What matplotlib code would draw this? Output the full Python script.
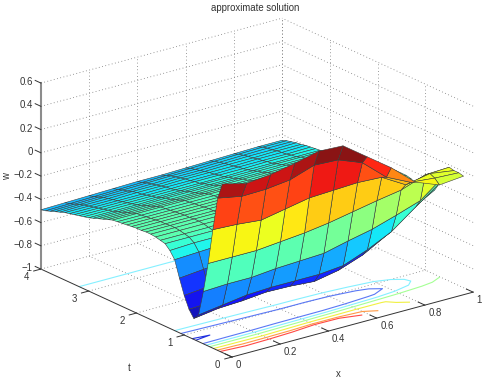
import matplotlib
matplotlib.use('Agg')
import matplotlib.pyplot as plt
from mpl_toolkits.mplot3d import proj3d
import numpy as np

plt.rcParams['font.family'] = ['Liberation Sans', 'DejaVu Sans']

x_vals = [0.0, 0.1, 0.2, 0.3, 0.4, 0.5, 0.6, 0.7, 0.8, 0.9, 1.0]
t_vals = [0.2, 0.3, 0.4, 0.5, 0.6, 0.7, 0.8, 0.9, 1.0, 1.1, 1.2, 1.3, 1.4,
          1.5, 1.6, 1.7, 1.8, 1.9, 2.0, 2.1, 2.2, 2.3, 2.4, 2.5, 2.6, 2.7,
          2.8, 2.9, 3.0, 3.1, 3.2, 3.3, 3.4, 3.5, 3.6, 3.7, 3.8, 3.9, 4.0]

# one row per t value
w_rows = [
    [0.45, 0.40, 0.42, 0.46, 0.51, 0.50, 0.35, 0.20, 0.02, -0.06, -0.04],
    [0.31, 0.27, 0.275, 0.30, 0.37, 0.36, 0.28, 0.10, 0.00, -0.02, -0.03],
    [0.02, 0.01, -0.01, 0.03, 0.07, 0.08, 0.09, 0.08, -0.04, 0.00, -0.03],
    [-0.29, -0.29, -0.29, -0.27, -0.25, -0.22, -0.18, -0.14, -0.105, -0.03, -0.02],
    [-0.55, -0.54, -0.54, -0.52, -0.51, -0.50, -0.45, -0.405, -0.34, -0.27, -0.11],
    [-0.77, -0.74, -0.71, -0.70, -0.70, -0.70, -0.68, -0.60, -0.50, -0.345, -0.195],
    [-0.82, -0.79, -0.78, -0.76, -0.765, -0.78, -0.74, -0.665, -0.55, -0.39, -0.27],
    [-0.76, -0.75, -0.74, -0.72, -0.72, -0.72, -0.69, -0.62, -0.51, -0.38, -0.30],
    [-0.66, -0.64, -0.62, -0.60, -0.58, -0.58, -0.56, -0.51, -0.44, -0.35, -0.31],
    [-0.53, -0.51, -0.49, -0.47, -0.45, -0.44, -0.43, -0.40, -0.37, -0.33, -0.31],
    [-0.39, -0.38, -0.37, -0.36, -0.35, -0.35, -0.34, -0.33, -0.32, -0.30, -0.29],
    [-0.33, -0.32, -0.32, -0.31, -0.31, -0.30, -0.30, -0.29, -0.29, -0.28, -0.27],
    [-0.29, -0.29, -0.29, -0.29, -0.28, -0.28, -0.28, -0.27, -0.27, -0.27, -0.26],
    [-0.28, -0.28, -0.28, -0.27, -0.27, -0.27, -0.27, -0.26, -0.26, -0.26, -0.26],
    [-0.27, -0.27, -0.27, -0.27, -0.27, -0.26, -0.26, -0.26, -0.26, -0.26, -0.26],
    [-0.265, -0.265, -0.265, -0.265, -0.265, -0.26, -0.26, -0.26, -0.26, -0.26, -0.26],
    [-0.265, -0.265, -0.265, -0.265, -0.265, -0.265, -0.26, -0.26, -0.26, -0.26, -0.26],
    [-0.27, -0.27, -0.27, -0.27, -0.27, -0.265, -0.265, -0.265, -0.265, -0.265, -0.265],
    [-0.27, -0.27, -0.27, -0.27, -0.27, -0.27, -0.27, -0.27, -0.27, -0.27, -0.27],
    [-0.275, -0.275, -0.275, -0.275, -0.275, -0.275, -0.275, -0.275, -0.275, -0.275, -0.275],
    [-0.28, -0.28, -0.28, -0.28, -0.28, -0.28, -0.28, -0.28, -0.28, -0.28, -0.28],
    [-0.285, -0.285, -0.285, -0.285, -0.285, -0.285, -0.285, -0.285, -0.285, -0.285, -0.285],
    [-0.29, -0.29, -0.29, -0.29, -0.29, -0.29, -0.29, -0.29, -0.29, -0.29, -0.29],
    [-0.295, -0.295, -0.295, -0.295, -0.295, -0.295, -0.295, -0.295, -0.295, -0.295, -0.30],
    [-0.31, -0.31, -0.31, -0.31, -0.31, -0.31, -0.31, -0.31, -0.31, -0.31, -0.31],
    [-0.325, -0.325, -0.325, -0.325, -0.325, -0.325, -0.325, -0.32, -0.32, -0.32, -0.32],
    [-0.34, -0.34, -0.34, -0.34, -0.34, -0.335, -0.335, -0.335, -0.335, -0.33, -0.33],
    [-0.355, -0.355, -0.355, -0.35, -0.35, -0.35, -0.35, -0.35, -0.345, -0.345, -0.345],
    [-0.37, -0.37, -0.37, -0.365, -0.365, -0.365, -0.365, -0.36, -0.36, -0.36, -0.36],
    [-0.38, -0.38, -0.38, -0.38, -0.38, -0.375, -0.375, -0.375, -0.37, -0.37, -0.37],
    [-0.39, -0.39, -0.39, -0.39, -0.39, -0.39, -0.39, -0.385, -0.385, -0.385, -0.385],
    [-0.40, -0.40, -0.40, -0.40, -0.40, -0.395, -0.395, -0.395, -0.39, -0.39, -0.39],
    [-0.41, -0.41, -0.41, -0.41, -0.405, -0.405, -0.405, -0.40, -0.40, -0.40, -0.395],
    [-0.42, -0.42, -0.42, -0.415, -0.415, -0.41, -0.41, -0.41, -0.405, -0.405, -0.40],
    [-0.435, -0.43, -0.43, -0.425, -0.425, -0.42, -0.42, -0.415, -0.415, -0.41, -0.41],
    [-0.45, -0.445, -0.44, -0.44, -0.435, -0.43, -0.43, -0.425, -0.42, -0.42, -0.415],
    [-0.465, -0.46, -0.455, -0.45, -0.445, -0.44, -0.44, -0.435, -0.43, -0.425, -0.425],
    [-0.48, -0.475, -0.47, -0.465, -0.46, -0.455, -0.45, -0.445, -0.44, -0.435, -0.435],
    [-0.49, -0.485, -0.48, -0.475, -0.47, -0.47, -0.465, -0.46, -0.455, -0.45, -0.45],
]

contour_levels = [-0.80, -0.57, -0.39, -0.19, 0.06, 0.28, 0.38]
contour_colors = ['#2030e0', '#5a78f5', '#85f0ff', '#a5ff95', '#f0f040', '#ff9a45', '#ff4a45']

x_ticks = [0, 0.2, 0.4, 0.6, 0.8, 1]
t_ticks = [0, 1, 2, 3, 4]
w_ticks = [-1, -0.8, -0.6, -0.4, -0.2, 0, 0.2, 0.4, 0.6]
x_labels = ['0', '0.2', '0.4', '0.6', '0.8', '1']
t_labels = ['0', '1', '2', '3', '4']
w_labels = ['\u22121', '\u22120.8', '\u22120.6', '\u22120.4', '\u22120.2', '0', '0.2', '0.4', '0.6']

X, T = np.meshgrid(x_vals, t_vals)
W = np.array(w_rows)

W_PX, H_PX = 485, 379
fig = plt.figure(figsize=(W_PX / 100, H_PX / 100), dpi=100)
ax = fig.add_axes([0.1, 0.1, 400 / W_PX, 400 / H_PX], projection='3d',
                  computed_zorder=False)
ax.set_proj_type('ortho')
ax.view_init(elev=20.6, azim=-127.4)
ax.set_xlim(0, 1)
ax.set_ylim(0, 4)
ax.set_zlim(-1, 0.6)
ax.set_box_aspect((303.5, 314.6, 198.7))
ax.set_axis_off()

grid = dict(color='#7a7a7a', lw=0.6, ls=(0, (1, 3)), zorder=1)
for xv in x_ticks[1:]:
    ax.plot([xv, xv], [0, 4], [-1, -1], **grid)
    ax.plot([xv, xv], [4, 4], [-1, 0.6], **grid)
for tv in t_ticks[1:]:
    ax.plot([0, 1], [tv, tv], [-1, -1], **grid)
    ax.plot([1, 1], [tv, tv], [-1, 0.6], **grid)
for wv in w_ticks[1:]:
    ax.plot([0, 1], [4, 4], [wv, wv], **grid)
    ax.plot([1, 1], [0, 4], [wv, wv], **grid)

norm = plt.Normalize(-0.9, 0.51)
jet = plt.get_cmap('jet', 64)

ax.contour(X, T, W, levels=contour_levels, zdir='z', offset=-1, colors=contour_colors,
           linewidths=0.8, zorder=2)

# axis lines and ticks
dark = dict(color='#333333', lw=0.7, zorder=3)
ax.plot([0, 1], [0, 0], [-1, -1], **dark)
ax.plot([0, 0], [0, 4], [-1, -1], **dark)
ax.plot([0, 0], [4, 4], [-1, 0.6], color='#8c8c8c', lw=1.5, zorder=3)
for xv in x_ticks:
    ax.plot([xv, xv], [0, 0.14], [-1, -1], **dark)
for tv in t_ticks:
    ax.plot([0, -0.03], [tv, tv], [-1, -1], **dark)
for wv in w_ticks:
    ax.plot([0, 0], [4, 4.12], [wv, wv], **dark)

# matlab colours come out a bit paler in the reference
faces = jet(norm(W))
faces[..., :3] = faces[..., :3] * 0.92 + 0.08

ax.plot_surface(X, T, W, rstride=1, cstride=1, facecolors=faces,
                shade=False, edgecolor='#3c3c3c', linewidth=0.4, zorder=4)


def to_px(x, y, z):
    xs, ys, _ = proj3d.proj_transform(x, y, z, ax.get_proj())
    return ax.transData.transform((xs, ys))


# fit the box onto the spot it has in the figure
fig.canvas.draw()
scale = 186 / (to_px(0, 0, 0.6)[1] - to_px(0, 0, -1)[1])
pos = ax.get_position(original=True)
ax.set_position([pos.x0, pos.y0, pos.width * scale, pos.height * scale])
fig.canvas.draw()
origin = to_px(0, 0, -1)
pos = ax.get_position(original=True)
ax.set_position([pos.x0 + (232 - origin[0]) / W_PX, pos.y0 + (H_PX - 357 - origin[1]) / H_PX,
                 pos.width, pos.height])
fig.canvas.draw()

fs = 6.9
txt = dict(fontsize=fs, va='center', color='#333333')


def label(x, y, z, s, ha):
    px = to_px(x, y, z)
    fig.text(px[0] / W_PX, px[1] / H_PX, s, ha=ha, **txt)


for xv, lab in zip(x_ticks, x_labels):
    label(xv, -0.075, -1.055, lab, 'left')
for tv, lab in zip(t_ticks, t_labels):
    label(-0.06, tv, -1.035, lab, 'center')
for wv, lab in zip(w_ticks, w_labels):
    label(0, 4.17, wv - 0.023, lab, 'right')

fig.text(255 / W_PX, 1 - 8 / H_PX, 'approximate solution', ha='center', **txt)
fig.text(338 / W_PX, 1 - 374 / H_PX, 'x', ha='center', **txt)
fig.text(129 / W_PX, 1 - 368 / H_PX, 't', ha='center', **txt)
fig.text(7 / W_PX, 1 - 177 / H_PX, 'w', ha='center', rotation=90, **txt)

fig.savefig('out.png', dpi=100)
